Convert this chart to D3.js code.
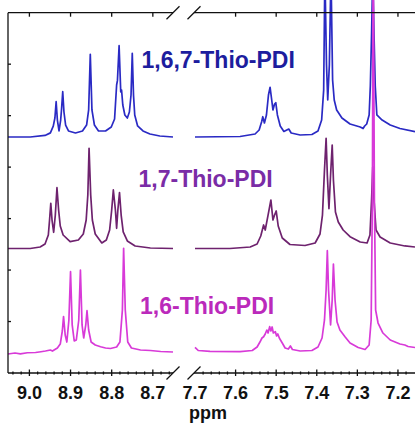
<!DOCTYPE html>
<html><head><meta charset="utf-8">
<script src="https://cdn.jsdelivr.net/npm/d3@7"></script>
<style>
html,body{margin:0;padding:0;background:#fff;overflow:hidden;}
svg{display:block;}
text{font-family:"Liberation Sans",Arial,sans-serif;font-weight:bold;}
</style></head>
<body>
<script>
// ---------- DATA ----------
const seriesNames = ["1,6,7-Thio-PDI", "1,7-Thio-PDI", "1,6-Thio-PDI"];
const seriesOffsets = [45.85, 24.19, 4.08];
const leftTicks = [9.0, 8.9, 8.8, 8.7];
const rightTicks = [7.7, 7.6, 7.5, 7.4, 7.3, 7.2];
const tickLabels = ["9.0","8.9","8.8","8.7","7.7","7.6","7.5","7.4","7.3","7.2"];
const xTitle = "ppm";

const blueLeft = [[9.052,0],[8.998,0],[8.962,0.3],[8.949,0.8],[8.942,2.1],[8.938,3.7],[8.935,6.86],[8.932,3.3],[8.928,1.17],[8.924,3.3],[8.922,5.25],[8.919,8.8],[8.916,4.86],[8.912,2.33],[8.905,1.17],[8.888,0.78],[8.871,1.17],[8.861,2.33],[8.856,5.25],[8.852,16.07],[8.848,5.25],[8.842,2.33],[8.832,1.17],[8.815,1.17],[8.801,1.94],[8.793,3.5],[8.788,10.1],[8.786,11],[8.782,17.74],[8.778,8.74],[8.776,9.13],[8.773,6.22],[8.768,4.28],[8.762,3.69],[8.757,4.86],[8.753,8.16],[8.750,16.26],[8.747,8.16],[8.744,4.28],[8.737,2.14],[8.724,1.17],[8.707,0.58],[8.683,0.2],[8.651,0]];
const blueRight = [[7.700,0],[7.589,0.1],[7.552,0.58],[7.542,1.36],[7.536,2.91],[7.533,3.94],[7.529,2.72],[7.524,4.28],[7.519,8.16],[7.515,9.66],[7.511,7.19],[7.508,5.25],[7.504,6.41],[7.501,6.66],[7.497,4.28],[7.490,2.14],[7.481,1.07],[7.469,1.55],[7.463,0.78],[7.441,0.39],[7.412,0.49],[7.397,1.17],[7.388,3.3],[7.383,9.1],[7.380,32],[7.376,14],[7.373,7.19],[7.369,14],[7.365,32],[7.361,11.07],[7.357,7.19],[7.351,5.25],[7.338,3.69],[7.318,2.53],[7.293,1.94],[7.286,1.65],[7.282,2.14],[7.277,2.53],[7.271,4.28],[7.268,10],[7.265,20],[7.262,32],[7.259,20],[7.256,10],[7.252,4.28],[7.239,3.3],[7.219,2.33],[7.195,1.65],[7.158,1.03]];
const purpleLeft = [[9.052,0],[8.998,0],[8.974,0.29],[8.962,0.87],[8.954,2.62],[8.951,5.53],[8.948,8.78],[8.945,5.53],[8.941,3.15],[8.937,6.5],[8.933,11.81],[8.929,7.48],[8.925,4.37],[8.918,2.62],[8.901,1.32],[8.881,1.65],[8.869,2.82],[8.862,5.53],[8.858,10.39],[8.855,19.45],[8.851,10.39],[8.847,5.53],[8.840,2.82],[8.824,1.07],[8.813,1.65],[8.805,3.59],[8.800,7.48],[8.796,11.37],[8.791,7.48],[8.788,3.92],[8.785,7.48],[8.781,10.85],[8.777,6.5],[8.772,3.21],[8.762,1.46],[8.743,0.49],[8.706,0.1],[8.651,0]];
const purpleRight = [[7.700,0],[7.614,0],[7.564,0.29],[7.547,0.87],[7.538,2.43],[7.531,4.57],[7.527,3.59],[7.520,6.5],[7.513,9.42],[7.508,5.53],[7.504,6.5],[7.500,7.29],[7.495,4.37],[7.485,2.04],[7.466,0.78],[7.429,0.58],[7.404,1.07],[7.392,2.82],[7.386,6.5],[7.381,15.25],[7.377,21.41],[7.374,14.28],[7.370,7.75],[7.366,14.28],[7.362,20.11],[7.359,13.3],[7.354,7.09],[7.347,5.15],[7.335,3.59],[7.318,2.29],[7.293,1.26],[7.276,1.07],[7.269,2.62],[7.265,9.42],[7.262,15.89],[7.259,9.42],[7.254,3.59],[7.244,2.23],[7.219,1.07],[7.183,0.49],[7.158,0.29]];
const magentaLeft = [[9.052,-0.39],[9.035,-0.2],[9.022,-0.35],[9.005,-0.15],[8.985,-0.1],[8.972,0.05],[8.961,0.19],[8.949,0.39],[8.944,0.19],[8.932,0.78],[8.925,1.55],[8.920,4.08],[8.917,6.86],[8.913,3.3],[8.909,1.94],[8.904,6.22],[8.900,15.6],[8.896,5.25],[8.891,2.14],[8.886,2.33],[8.880,6.22],[8.876,15.93],[8.872,5.25],[8.868,2.72],[8.863,5.25],[8.860,8.02],[8.856,4.27],[8.850,1.94],[8.840,1.36],[8.827,1.03],[8.815,0.78],[8.803,0.68],[8.788,0.97],[8.780,1.94],[8.774,8.16],[8.771,20.15],[8.767,8.16],[8.761,1.94],[8.752,0.78],[8.730,0.39],[8.706,0.29],[8.681,0.1],[8.651,0]];
const magentaRight = [[7.700,0.91],[7.692,0.29],[7.663,0.14],[7.589,0.06],[7.559,0.29],[7.547,0.97],[7.540,1.94],[7.535,2.72],[7.531,2.97],[7.527,3.5],[7.523,4.27],[7.520,3.69],[7.516,4.92],[7.513,4.08],[7.510,4.86],[7.507,3.69],[7.502,3.94],[7.499,3.11],[7.496,3.5],[7.492,2.66],[7.485,1.75],[7.478,0.78],[7.470,0.58],[7.465,1.17],[7.460,0.49],[7.441,0.19],[7.412,0.29],[7.397,0.97],[7.387,2.72],[7.381,6.22],[7.377,12.05],[7.374,19.68],[7.371,12.05],[7.366,5.25],[7.362,10.1],[7.359,17.1],[7.355,10.1],[7.350,5.83],[7.343,4.27],[7.330,2.91],[7.318,1.75],[7.298,0.87],[7.281,0.49],[7.271,1.36],[7.266,6.22],[7.263,29.5],[7.261,80],[7.258,29.5],[7.255,8.16],[7.249,5.63],[7.237,3.69],[7.219,2.33],[7.195,1.55],[7.183,1.36],[7.175,1.07],[7.158,0.87]];

// ---------- LAYOUT ----------
const W = 415, H = 423;
const colors = ["#2a2ac4", "#6e226e", "#d83ad8"];
const labelColors = ["#1d1d9e", "#7a2ca6", "#bb2abb"];
const plotTop = 12.7, plotBottom = 373;

const xL = d3.scaleLinear().domain([9.052, 8.651]).range([8, 173]);
const xR = d3.scaleLinear().domain([7.700, 7.158]).range([195, 415]);
const y = d3.scaleLinear().domain([0, 70]).range([plotBottom, plotTop]);

const svg = d3.select("body").append("svg").attr("width", W).attr("height", H);

// spectra
const spectra = [[blueLeft, blueRight], [purpleLeft, purpleRight], [magentaLeft, magentaRight]];
spectra.forEach((pair, i) => {
  const off = seriesOffsets[i];
  [[pair[0], xL], [pair[1], xR]].forEach(([data, xs]) => {
    const line = d3.line().x(d => xs(d[0])).y(d => y(d[1] + off));
    svg.append("path").attr("d", line(data)).attr("fill", "none")
      .attr("stroke", colors[i]).attr("stroke-width", 1.7).attr("stroke-linejoin", "round");
  });
});

// axes
const ax = svg.append("g").attr("stroke", "#111").attr("stroke-width", 1.3).attr("fill", "none");
ax.append("line").attr("x1", xL(9.052)).attr("x2", xL(9.052)).attr("y1", y(70)).attr("y2", y(0));
d3.range(1, 7).forEach(v => {
  ax.append("line").attr("x1", xL(9.052)).attr("x2", xL(9.052) + 3).attr("y1", y(v * 10)).attr("y2", y(v * 10));
});
[y(70), y(0)].forEach(yy => {
  ax.append("line").attr("x1", xL(9.052)).attr("x2", xL(8.651)).attr("y1", yy).attr("y2", yy);
  ax.append("line").attr("x1", xR(7.70) - 1).attr("x2", W).attr("y1", yy).attr("y2", yy);
  [xL(8.651), xR(7.70) - 1].forEach(xx => {
    ax.append("line").attr("x1", xx - 6.5).attr("x2", xx + 6.5).attr("y1", yy + 6.5).attr("y2", yy - 6.5);
  });
});
const majorL = leftTicks, majorR = rightTicks.filter(v => v < 7.69);
majorL.forEach(v => {
  ax.append("line").attr("x1", xL(v)).attr("x2", xL(v)).attr("y1", y(70)).attr("y2", y(70) + 4);
  ax.append("line").attr("x1", xL(v)).attr("x2", xL(v)).attr("y1", y(0) - 3.5).attr("y2", y(0) + 3);
});
majorR.forEach(v => {
  ax.append("line").attr("x1", xR(v)).attr("x2", xR(v)).attr("y1", y(70)).attr("y2", y(70) + 4);
  ax.append("line").attr("x1", xR(v)).attr("x2", xR(v)).attr("y1", y(0) - 3.5).attr("y2", y(0) + 3);
});
const minorL = d3.range(0, 20).map(k => +(9.04 - k * 0.02).toFixed(2)).filter(v => v > 8.655 && Math.abs(v * 10 - Math.round(v * 10)) > 0.01);
const minorR = d3.range(0, 30).map(k => +(7.68 - k * 0.02).toFixed(2)).filter(v => v > 7.16 && Math.abs(v * 10 - Math.round(v * 10)) > 0.01);
minorL.forEach(v => ax.append("line").attr("x1", xL(v)).attr("x2", xL(v)).attr("y1", y(0) - 1.5).attr("y2", y(0) + 1.5));
minorR.forEach(v => ax.append("line").attr("x1", xR(v)).attr("x2", xR(v)).attr("y1", y(0) - 1.5).attr("y2", y(0) + 1.5));

// tick labels
const allTicks = leftTicks.map(v => xL(v)).concat(rightTicks.map(v => xR(v)));
svg.selectAll("text.tick").data(tickLabels).enter().append("text")
  .attr("class", "tick").attr("x", (d, i) => allTicks[i]).attr("y", 399)
  .attr("text-anchor", "middle").attr("font-size", 18).attr("fill", "#111").text(d => d);
svg.append("text").attr("x", 208).attr("y", 419).attr("text-anchor", "middle")
  .attr("font-size", 18).attr("fill", "#111").text(xTitle);

// series labels
const labelY = [67.5, 187, 314];
const labelX = [141.5, 138.5, 140];
seriesNames.forEach((n, i) => {
  svg.append("text").attr("x", labelX[i]).attr("y", labelY[i]).attr("font-size", 23)
    .attr("fill", labelColors[i]).text(n);
});
</script>
</body></html>
